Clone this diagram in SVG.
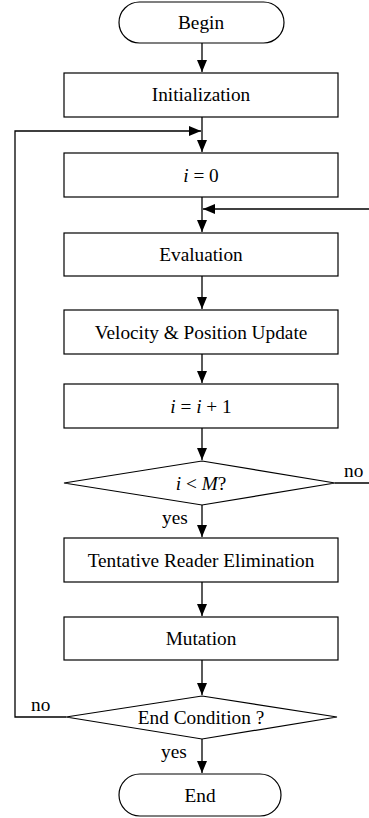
<svg xmlns="http://www.w3.org/2000/svg" width="369" height="818" viewBox="0 0 369 818">
<style>
.s{fill:#fff;stroke:#000;stroke-width:1.2}
.t{font-family:'Liberation Serif','Times New Roman',serif;font-size:19.3px;fill:#000;text-anchor:middle}
.l{font-family:'Liberation Serif','Times New Roman',serif;font-size:19.3px;fill:#000}
.c{fill:none;stroke:#000;stroke-width:1.3}
</style>
<defs>
<marker id="a" viewBox="0 0 12 10" refX="12" refY="5" markerWidth="12" markerHeight="10" markerUnits="userSpaceOnUse" orient="auto">
<path d="M0,0 L12,5 L0,10 Z" fill="#000"/>
</marker>
</defs>
<rect width="369" height="818" fill="#fff"/>
<g id="connectors">
<path class="c" d="M202,43 V72" marker-end="url(#a)"/>
<path class="c" d="M202,117 V152" marker-end="url(#a)"/>
<path class="c" d="M66,717 H15 V131 H201" marker-end="url(#a)"/>
<path class="c" d="M202,197 V232" marker-end="url(#a)"/>
<path class="c" d="M335,483 H369"/>
<path class="c" d="M369,209 H203" marker-end="url(#a)"/>
<path class="c" d="M202,276 V309" marker-end="url(#a)"/>
<path class="c" d="M202,354 V383" marker-end="url(#a)"/>
<path class="c" d="M202,428 V460" marker-end="url(#a)"/>
<path class="c" d="M202,505 V537" marker-end="url(#a)"/>
<path class="c" d="M202,582 V616" marker-end="url(#a)"/>
<path class="c" d="M202,660 V695" marker-end="url(#a)"/>
<path class="c" d="M202,739 V773" marker-end="url(#a)"/>
</g>
<g id="begin"><rect class="s" x="119" y="2" width="165" height="41" rx="20.5"/><text class="t" x="201" y="28.5">Begin</text></g>
<g id="init"><rect class="s" x="64" y="73" width="274" height="44"/><text class="t" x="201" y="101">Initialization</text></g>
<g id="i0"><rect class="s" x="64" y="153" width="274" height="44"/><text class="t" x="201" y="181.5"><tspan font-style="italic">i</tspan> = 0</text></g>
<g id="eval"><rect class="s" x="64" y="233" width="274" height="43"/><text class="t" x="201" y="261">Evaluation</text></g>
<g id="update"><rect class="s" x="64" y="310" width="274" height="44"/><text class="t" x="201" y="338.5">Velocity &amp; Position Update</text></g>
<g id="inc"><rect class="s" x="64" y="384" width="274" height="44"/><text class="t" x="201" y="412.5"><tspan font-style="italic">i</tspan> = <tspan font-style="italic">i</tspan> + 1</text></g>
<g id="cond1"><polygon class="s" points="202,461 335,483 202,505 64,483"/><text class="t" x="201" y="489.5"><tspan font-style="italic">i</tspan> &lt; <tspan font-style="italic">M</tspan>?</text></g>
<g id="tre"><rect class="s" x="64" y="538" width="274" height="44"/><text class="t" x="201" y="566.5">Tentative Reader Elimination</text></g>
<g id="mut"><rect class="s" x="64" y="617" width="274" height="43"/><text class="t" x="201" y="645">Mutation</text></g>
<g id="cond2"><polygon class="s" points="202,696 337,717 202,739 66,717"/><text class="t" x="201" y="724">End Condition ?</text></g>
<g id="end"><rect class="s" x="119" y="774" width="162" height="42" rx="21"/><text class="t" x="200" y="802">End</text></g>
<g id="labels">
<text class="l" x="344" y="477">no</text>
<text class="l" x="162" y="524">yes</text>
<text class="l" x="31" y="711">no</text>
<text class="l" x="161" y="758">yes</text>
</g>
</svg>
